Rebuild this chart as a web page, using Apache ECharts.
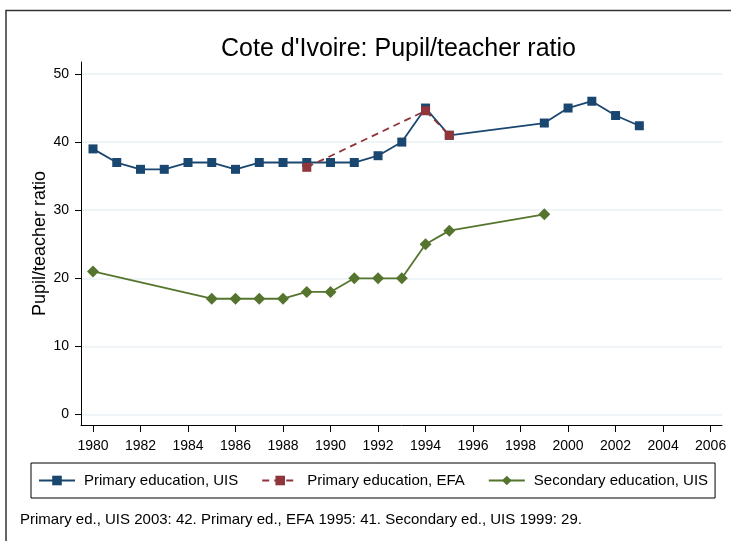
<!DOCTYPE html>
<html>
<head>
<meta charset="utf-8">
<title>Cote d'Ivoire: Pupil/teacher ratio</title>
<script src="https://cdn.jsdelivr.net/npm/echarts@6/dist/echarts.min.js"></script>
<style>
  html, body { margin: 0; padding: 0; background: #fff; }
  #chart { width: 731px; height: 541px; }
</style>
</head>
<body>
<div id="chart"></div>
<script>
// data
const primaryUisYears = [1980, 1981, 1982, 1983, 1984, 1985, 1986, 1987, 1988, 1989, 1990, 1991, 1992, 1993, 1994, 1995, 1999, 2000, 2001, 2002, 2003];
const primaryUisValues = [39, 37, 36, 36, 37, 37, 36, 37, 37, 37, 37, 37, 38, 40, 45, 41, 42.8, 45, 46, 43.9, 42.4];

const primaryEfaYears = [1989, 1994, 1995];
const primaryEfaValues = [36.3, 44.6, 41];

const secondaryUisYears = [1980, 1985, 1986, 1987, 1988, 1989, 1990, 1991, 1992, 1993, 1994, 1995, 1999];
const secondaryUisValues = [21, 17, 17, 17, 17, 18, 18, 20, 20, 20, 25, 27, 29.4];

const xTicks = [1980, 1982, 1984, 1986, 1988, 1990, 1992, 1994, 1996, 1998, 2000, 2002, 2004, 2006];
const yTicks = [0, 10, 20, 30, 40, 50];

const seriesNames = ["Primary education, UIS", "Primary education, EFA", "Secondary education, UIS"];
const noteText = "Primary ed., UIS 2003: 42. Primary ed., EFA 1995: 41. Secondary ed., UIS 1999: 29.";

const font = "'Liberation Sans', Arial, sans-serif";

function pairs(years, values) {
  return years.map((y, i) => [y, values[i]]);
}

const chart = echarts.init(document.getElementById("chart"));

const option = {
  backgroundColor: "#fff",
  animation: false,
  textStyle: { fontFamily: font },
  title: {
    text: "Cote d'Ivoire: Pupil/teacher ratio",
    left: 216,
    top: 32,
    textStyle: { fontFamily: font, fontSize: 25, fontWeight: "normal", color: "#000" },
  },
  graphic: [
    {
      // outer frame (only top and left edges visible)
      type: "rect",
      shape: { x: 6, y: 10.5, width: 900, height: 700 },
      style: { fill: "none", stroke: "#333", lineWidth: 1.5 },
      silent: true,
    },
    {
      type: "text",
      left: 20,
      top: 512,
      style: { text: noteText, font: "15px " + font, fill: "#000" },
    },
  ],
  legend: {
    data: seriesNames,
    left: 31,
    top: 463,
    padding: [10, 7, 10, 7],
    borderColor: "#000",
    borderWidth: 1,
    itemWidth: 36,
    itemHeight: 12,
    itemGap: 23,
    textStyle: { fontFamily: font, fontSize: 15, color: "#000", padding: [0, 0, 0, 4] },
  },
  grid: {
    left: 81,
    right: 9,
    top: 62,
    bottom: 116,
  },
  xAxis: {
    type: "value",
    min: 1979.495,
    max: 2006.48,
    axisLine: { onZero: false, lineStyle: { color: "#000", width: 1 } },
    axisTick: { show: true, length: 7, customValues: xTicks, lineStyle: { color: "#000" } },
    axisLabel: {
      customValues: xTicks,
      margin: 14,
      color: "#000",
      fontSize: 14,
      fontFamily: font,
      formatter: (v) => String(v),
    },
    splitLine: { show: false },
  },
  yAxis: {
    type: "value",
    min: -1.54,
    max: 51.76,
    name: "Pupil/teacher ratio",
    nameLocation: "middle",
    nameRotate: 90,
    nameGap: 32,
    nameMoveOverlap: false,
    nameTextStyle: { fontFamily: font, fontSize: 18, color: "#000" },
    axisLine: { show: true, onZero: false, lineStyle: { color: "#000", width: 1 } },
    axisTick: { show: true, length: 6, customValues: yTicks, lineStyle: { color: "#000" } },
    axisLabel: { customValues: yTicks, margin: 12, color: "#000", fontSize: 14, fontFamily: font },
    splitLine: { show: true, lineStyle: { color: "#eaf2f3", width: 1.5 } },
  },
  series: [
    {
      name: seriesNames[0],
      type: "line",
      data: pairs(primaryUisYears, primaryUisValues),
      symbol: "rect",
      symbolSize: 9,
      lineStyle: { color: "#1a476f", width: 1.8 },
      itemStyle: { color: "#1a476f" },
    },
    {
      name: seriesNames[1],
      type: "line",
      data: pairs(primaryEfaYears, primaryEfaValues),
      symbol: "rect",
      symbolSize: 9,
      lineStyle: { color: "#90353b", width: 1.8, type: [7, 5] },
      itemStyle: { color: "#90353b" },
    },
    {
      name: seriesNames[2],
      type: "line",
      data: pairs(secondaryUisYears, secondaryUisValues),
      symbol: "diamond",
      symbolSize: 12,
      lineStyle: { color: "#55752f", width: 1.8 },
      itemStyle: { color: "#55752f" },
    },
  ],
};

chart.setOption(option);
</script>
</body>
</html>
